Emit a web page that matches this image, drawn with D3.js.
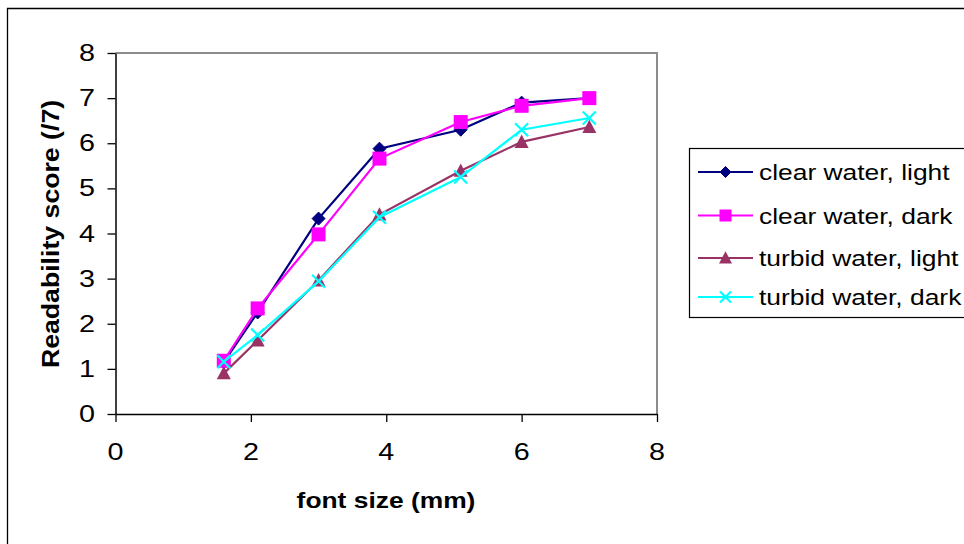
<!DOCTYPE html>
<html>
<head>
<meta charset="utf-8">
<script src="https://cdn.jsdelivr.net/npm/d3@7"></script>
<style>
  html, body { margin: 0; padding: 0; background: #fff; }
  svg { display: block; font-family: "Liberation Sans", Arial, sans-serif; }
</style>
</head>
<body>
<svg id="chart" width="964" height="544"></svg>
<script>
// ---- data ----
const fontSizes = [1.6, 2.1, 3.0, 3.9, 5.1, 6.0, 7.0];
const seriesNames = ["clear water, light", "clear water, dark", "turbid water, light", "turbid water, dark"];
const clearLight  = [1.15, 2.25, 4.33, 5.88, 6.30, 6.90, 7.00];
const clearDark   = [1.18, 2.34, 3.98, 5.66, 6.47, 6.83, 7.00];
const turbidLight = [0.90, 1.63, 2.96, 4.42, 5.39, 6.03, 6.36];
const turbidDark  = [1.16, 1.75, 2.94, 4.36, 5.25, 6.30, 6.56];
const xTicks = [0, 2, 4, 6, 8];
const yTicks = [0, 1, 2, 3, 4, 5, 6, 7, 8];
const xTitle = "font size (mm)";
const yTitle = "Readability score (/7)";

const seriesValues = [clearLight, clearDark, turbidLight, turbidDark];
const colors = ["#000080", "#FF00FF", "#993366", "#00FFFF"];
const symbols = ["diamond", "square", "triangle", "cross"];

const svg = d3.select("#chart");
const W = 964, H = 544;
const plot = { left: 115.5, right: 657, top: 53, bottom: 414 };
const FS = 22, SX = 1.2;

const x = d3.scaleLinear().domain([0, 8]).range([plot.left, plot.right]);
const y = d3.scaleLinear().domain([0, 8]).range([plot.bottom, plot.top]);

// outer chart border (only top/left visible)
svg.append("path")
  .attr("d", `M7.5,${H + 2} L7.5,8.5 L${W + 2},8.5`)
  .attr("fill", "none").attr("stroke", "#000").attr("stroke-width", 1.3);

// plot area gray frame (top/right)
svg.append("path")
  .attr("d", `M${plot.left},${plot.top} L${plot.right},${plot.top} L${plot.right},${plot.bottom}`)
  .attr("fill", "none").attr("stroke", "#8c8c8c").attr("stroke-width", 2);

// axes
const xAxis = svg.append("g").attr("transform", `translate(0,${plot.bottom})`)
  .call(d3.axisBottom(x).tickValues(xTicks).tickSizeOuter(0).tickSizeInner(8).tickFormat(""));
const yAxis = svg.append("g").attr("transform", `translate(${plot.left},0)`)
  .call(d3.axisLeft(y).tickValues(yTicks).tickSizeOuter(0).tickSizeInner(8).tickFormat(""));
[xAxis, yAxis].forEach(a => {
  a.select(".domain").attr("stroke", "#000").attr("stroke-width", 1.5);
  a.selectAll(".tick line").attr("stroke", "#000").attr("stroke-width", 1.3);
});

// helper: stretched text
function stext(g, str, tx, ty, opts) {
  const o = Object.assign({ anchor: "start", weight: "normal", rotate: 0, size: FS, sx: SX }, opts || {});
  return g.append("text")
    .attr("transform", `translate(${tx},${ty}) rotate(${o.rotate}) scale(${o.sx},1)`)
    .attr("text-anchor", o.anchor)
    .attr("font-size", o.size)
    .attr("font-weight", o.weight)
    .attr("fill", "#000")
    .text(str);
}

// tick labels
const labels = svg.append("g");
yTicks.forEach(v => stext(labels, String(v), 95, y(v) + 8, { anchor: "end", size: 23, sx: 1.25 }));
xTicks.forEach(v => stext(labels, String(v), x(v), 460, { anchor: "middle", size: 23, sx: 1.25 }));

// axis titles
stext(labels, xTitle, 386, 508, { anchor: "middle", weight: "bold" });
stext(labels, yTitle, 59, 234, { anchor: "middle", weight: "bold", rotate: -90, size: 23, sx: 1.16 });

// marker drawing
function drawMarker(g, type, color, cx, cy, s) {
  if (type === "diamond") {
    g.append("path").attr("d", `M${cx},${cy - s / 2} L${cx + s / 2},${cy} L${cx},${cy + s / 2} L${cx - s / 2},${cy} Z`)
      .attr("fill", color).attr("stroke", color).attr("stroke-width", 1);
  } else if (type === "square") {
    g.append("rect").attr("x", cx - s / 2).attr("y", cy - s / 2).attr("width", s).attr("height", s)
      .attr("fill", color);
  } else if (type === "triangle") {
    const h = s * 0.95;
    g.append("path").attr("d", `M${cx},${cy - h * 0.55} L${cx + s / 2},${cy + h * 0.45} L${cx - s / 2},${cy + h * 0.45} Z`)
      .attr("fill", color);
  } else if (type === "cross") {
    const r = s / 2;
    g.append("path").attr("d", `M${cx - r},${cy - r} L${cx + r},${cy + r} M${cx - r},${cy + r} L${cx + r},${cy - r}`)
      .attr("stroke", color).attr("stroke-width", 2.2).attr("fill", "none");
  }
}

const markerSizes = [13, 14, 14, 13];
const line = d3.line().x((d, i) => x(fontSizes[i])).y(d => y(d));

const series = svg.append("g");
seriesValues.forEach((vals, k) => {
  const g = series.append("g");
  g.append("path").datum(vals).attr("d", line)
    .attr("fill", "none").attr("stroke", colors[k]).attr("stroke-width", 2.2);
  vals.forEach((v, i) => drawMarker(g, symbols[k], colors[k], x(fontSizes[i]), y(v), markerSizes[k]));
});

// legend
const legend = svg.append("g");
legend.append("rect").attr("x", 689.5).attr("y", 148.5).attr("width", 290).attr("height", 169)
  .attr("fill", "#fff").attr("stroke", "#000").attr("stroke-width", 1.2);
const rowY = [172, 215.5, 258, 297];
const legSizes = [11, 12, 13, 11];
seriesNames.forEach((name, k) => {
  const cy = rowY[k];
  legend.append("line").attr("x1", 698).attr("x2", 753).attr("y1", cy).attr("y2", cy)
    .attr("stroke", colors[k]).attr("stroke-width", 2);
  drawMarker(legend, symbols[k], colors[k], 725.5, cy, legSizes[k]);
  stext(legend, name, 759, cy + 8);
});
</script>
</body>
</html>
